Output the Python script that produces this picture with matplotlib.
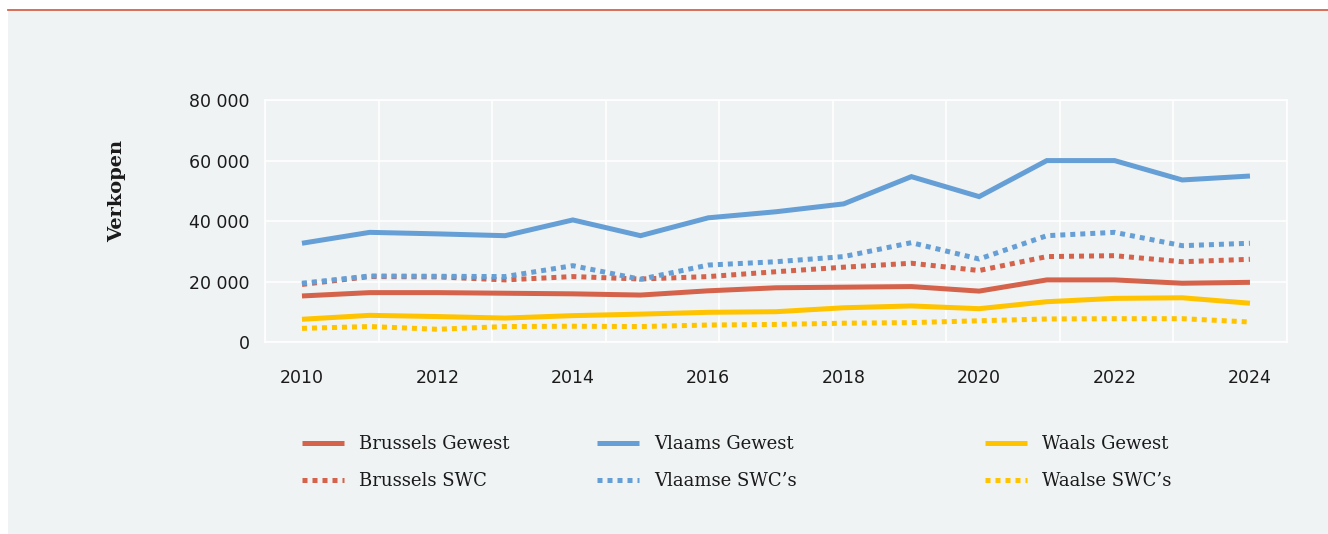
import matplotlib
matplotlib.use("Agg")
import matplotlib.pyplot as plt
import numpy as np
from matplotlib.patches import Rectangle
from matplotlib.lines import Line2D
from matplotlib.ticker import FuncFormatter

years = list(range(2010, 2025))
brussels_gewest = [15300, 16400, 16400, 16200, 16000, 15600, 17000, 18000, 18200, 18400, 16900, 20600, 20600, 19500, 19800]
vlaams_gewest = [32700, 36300, 35800, 35200, 40400, 35200, 41100, 43100, 45700, 54700, 48100, 60000, 60000, 53600, 54900]
waals_gewest = [7600, 8900, 8500, 8000, 8800, 9300, 9900, 10100, 11400, 12000, 11100, 13400, 14500, 14700, 12900]
brussels_swc = [19100, 21700, 21600, 20600, 21700, 20900, 21700, 23300, 24800, 26100, 23700, 28300, 28600, 26600, 27400]
vlaamse_swc = [19500, 21900, 21800, 21700, 25300, 20800, 25500, 26600, 28300, 32900, 27500, 35200, 36300, 31900, 32700]
waalse_swc = [4600, 5200, 4300, 5200, 5300, 5200, 5700, 5900, 6300, 6500, 7100, 7700, 7800, 7800, 6700]

x_tick_labels = [2010, 2012, 2014, 2016, 2018, 2020, 2022, 2024]
y_ticks = [0, 20000, 40000, 60000, 80000]

RED = "#d5634b"
BLUE = "#659fd5"
YELLOW = "#ffc300"
BG = "#eff3f4"

W, H = 1328, 534
fig = plt.figure(figsize=(W / 100, H / 100), dpi=100, facecolor="white")
fig.add_artist(Rectangle((8 / W, 0), 1 - 8 / W, 1 - 10 / H, transform=fig.transFigure,
                         facecolor=BG, edgecolor="none", zorder=-10))
fig.add_artist(Line2D([8 / W, 1], [1 - 9.5 / H, 1 - 9.5 / H], transform=fig.transFigure,
                      color="#d5634b", lw=1.3))

ax = fig.add_axes([265 / W, 1 - 342.3 / H, (1287 - 265) / W, (342.3 - 100) / H])
ax.set_facecolor(BG)

lw = 3.6
series = [
    ("Brussels Gewest", brussels_gewest, RED, "-"),
    ("Brussels SWC", brussels_swc, RED, (0, (1, 1))),
    ("Vlaams Gewest", vlaams_gewest, BLUE, "-"),
    ("Vlaamse SWC\u2019s", vlaamse_swc, BLUE, (0, (1, 1))),
    ("Waals Gewest", waals_gewest, YELLOW, "-"),
    ("Waalse SWC\u2019s", waalse_swc, YELLOW, (0, (1, 1))),
]
handles = []
for label, vals, col, ls in series:
    h, = ax.plot(years, vals, color=col, lw=lw, linestyle=ls, label=label,
                 solid_capstyle="butt", dash_capstyle="butt", solid_joinstyle="miter")
    handles.append(h)

x0, x1 = 2009.454, 2024.547
ax.set_xlim(x0, x1)
ax.set_ylim(0, 80000)
ax.set_xticks(x_tick_labels)
ax.set_xticklabels([str(v) for v in x_tick_labels])
ax.set_xticks(np.linspace(x0, x1, 10), minor=True)
ax.set_yticks(y_ticks)
ax.yaxis.set_major_formatter(FuncFormatter(lambda v, p: f"{int(v):,}".replace(",", " ")))
ax.grid(False)
ax.grid(True, which="minor", axis="x", color="white", lw=1.2)
ax.grid(True, which="major", axis="y", color="white", lw=1.2)
ax.set_axisbelow(True)
for s in ax.spines.values():
    s.set_color("white")
    s.set_linewidth(1.2)
ax.tick_params(axis="both", which="both", length=0)
ax.tick_params(axis="x", pad=19, labelsize=12.5, labelcolor="#1a1a1a")
ax.tick_params(axis="y", pad=11, labelsize=12.5, labelcolor="#1a1a1a")

fig.text(117 / W, 1 - 191 / H, "Verkopen", rotation=90, ha="center", va="center",
         family="DejaVu Serif", fontweight="bold", fontsize=14, color="#1a1a1a")

legend_x = [302, 597, 985]
for i, lx in enumerate(legend_x):
    leg = fig.legend(handles=handles[2 * i:2 * i + 2], loc="center left",
                     bbox_to_anchor=(lx / W, 1 - 462.5 / H), frameon=False,
                     prop={"family": "DejaVu Serif", "size": 13},
                     handlelength=2.3, handletextpad=0.85, labelspacing=1.05,
                     borderpad=0, borderaxespad=0)
    for t in leg.get_texts():
        t.set_color("#1a1a1a")

fig.savefig("out.png", dpi=100, facecolor="white")
